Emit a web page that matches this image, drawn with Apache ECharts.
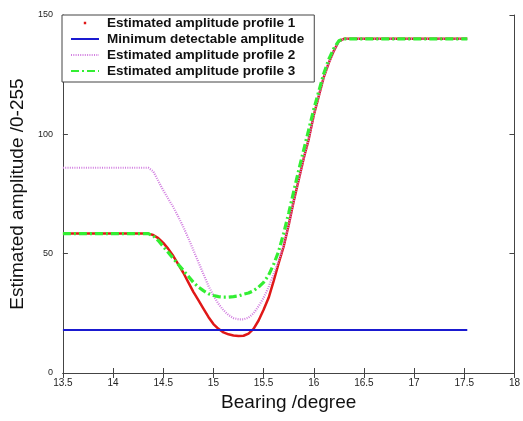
<!DOCTYPE html>
<html><head><meta charset="utf-8">
<script src="https://cdn.jsdelivr.net/npm/echarts@6/dist/echarts.min.js"></script>
<style>html,body{margin:0;padding:0;background:#fff}#c{width:523px;height:421px}</style>
</head><body><div id="c"></div>
<script>
var bearing = [13.5,14.35,14.4,14.45,14.5,14.55,14.6,14.65,14.7,14.75,14.8,14.85,14.9,14.95,15.0,15.05,15.1,15.15,15.2,15.25,15.3,15.35,15.4,15.45,15.5,15.55,15.6,15.65,15.7,15.75,15.8,15.85,15.9,15.95,16.0,16.05,16.1,16.15,16.2,16.25,16.3,17.53];
var profile1 = [58.4,58.4,57.8,56.5,54.5,52,49,45.5,42,38,34,30.5,27,23.5,20.5,18.5,17,16.2,15.7,15.5,15.6,16.5,18.5,22,26.5,31.5,38.5,46,53,62,72,81,90,98,108,116,124,130,135,139,140,140];
var profile2 = [86,86,84.5,80.5,76.5,73,69.5,65.5,61.2,56.5,51.5,46.5,41.5,36.5,32.5,29,26.3,24.3,23,22.5,22.5,23.2,25,28,31.5,36,41.5,47,53.5,62,72,81,90,98,108,116,124,130,135,139,140,140];
var profile3 = [58.4,58.4,57.5,55.5,53,50.5,48,45.5,43,40.5,38,36,34.5,33.2,32.5,32,31.8,31.8,32,32.3,33,33.5,34.5,36,38,41,45.5,51,58.5,67,76,85,93.5,102,110.5,118,125.5,131.5,136,139.2,140,140];
var minBearing = [13.5,17.53];
var minAmp = [18,18];
var seriesNames = ['Estimated amplitude profile 1','Minimum detectable amplitude','Estimated amplitude profile 2','Estimated amplitude profile 3'];

function pairs(xs, ys){ return xs.map(function(x,i){ return [x, ys[i]]; }); }

var chart = echarts.init(document.getElementById('c'));
var axisLineStyle = {color:'#444', width:1};
var fontFam = '"Liberation Sans", Arial, Helvetica, sans-serif';
chart.setOption({
  animation:false,
  backgroundColor:'#fff',
  grid:{left:62, right:5, top:15, bottom:48},
  legend:{
    orient:'vertical', left:62, top:15,
    itemWidth:28, itemHeight:14, itemGap:2,
    padding:[1,10,4,8],
    backgroundColor:'#fff', borderColor:'#444', borderWidth:1, borderRadius:0,
    textStyle:{fontFamily:fontFam, fontSize:13.5, fontWeight:'bold', color:'#111', padding:[0,0,0,3]},
    itemStyle:{opacity:0},
    data:[
      {name:seriesNames[0], icon:'path://M0,0h0.01v0.01h-0.01z M12.8,5.8h2.4v2.4h-2.4z M28,14h0.01v0.01h-0.01z', itemStyle:{color:'#e01818', opacity:1}},
      {name:seriesNames[1]},
      {name:seriesNames[2]},
      {name:seriesNames[3]}
    ]
  },
  xAxis:[{
    type:'value', min:13.5, max:18, interval:0.5,
    name:'Bearing /degree', nameLocation:'middle', nameGap:13,
    nameTextStyle:{fontFamily:fontFam, fontSize:19, color:'#111', verticalAlign:'top'},
    axisLine:{lineStyle:axisLineStyle},
    axisTick:{inside:true, length:5, lineStyle:axisLineStyle},
    axisLabel:{fontFamily:fontFam, fontSize:10, color:'#222', margin:5,
      formatter:function(v){ return String(Math.round(v*10)/10); }},
    splitLine:{show:false}
  },{
    type:'value', position:'top', min:13.5, max:18, interval:0.5,
    axisLine:{lineStyle:axisLineStyle},
    axisTick:{inside:true, length:5, lineStyle:axisLineStyle},
    axisLabel:{show:false}, splitLine:{show:false}
  }],
  yAxis:[{
    type:'value', min:0, max:150, interval:50,
    name:'Estimated amplitude /0-255', nameLocation:'middle', nameGap:29,
    nameTextStyle:{fontFamily:fontFam, fontSize:19, color:'#111'},
    axisLine:{show:true, lineStyle:axisLineStyle},
    axisTick:{show:true, inside:true, length:5, lineStyle:axisLineStyle},
    axisLabel:{fontFamily:fontFam, fontSize:9, color:'#222', margin:10},
    splitLine:{show:false}
  },{
    type:'value', position:'right', min:0, max:150, interval:50,
    axisLine:{show:true, lineStyle:axisLineStyle},
    axisTick:{show:true, inside:true, length:5, lineStyle:axisLineStyle},
    axisLabel:{show:false}, splitLine:{show:false}
  }],
  series:[
    {name:seriesNames[0], type:'line', symbol:'none', z:2, data:pairs(bearing, profile1),
      lineStyle:{color:'#e01818', width:2.5}, itemStyle:{color:'#e01818'}},
    {name:seriesNames[1], type:'line', symbol:'none', z:3, data:pairs(minBearing, minAmp),
      lineStyle:{color:'#1a1ad0', width:2}, itemStyle:{color:'#1a1ad0'}},
    {name:seriesNames[2], type:'line', symbol:'none', z:4, data:pairs(bearing, profile2),
      lineStyle:{color:'#d27ee0', width:2.2, type:[1,1.3]}, itemStyle:{color:'#d27ee0'}},
    {name:seriesNames[3], type:'line', symbol:'none', z:5, data:pairs(bearing, profile3),
      lineStyle:{color:'#33ee33', width:3.2, type:[8,3,2,3]}, itemStyle:{color:'#33ee33'}}
  ]
});
</script>
</body></html>
